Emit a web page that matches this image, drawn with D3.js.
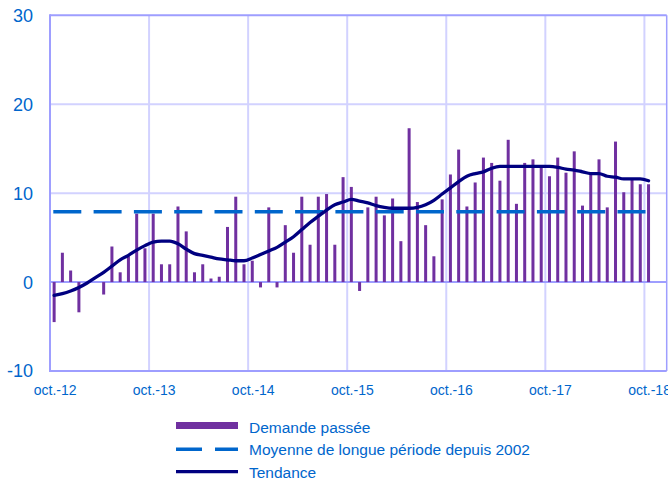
<!DOCTYPE html>
<html>
<head>
<meta charset="utf-8">
<script src="https://cdn.jsdelivr.net/npm/d3@7"></script>
<style>
  html, body { margin: 0; padding: 0; background: #fff; }
  svg { display: block; font-family: "Liberation Sans", Arial, sans-serif; }
</style>
</head>
<body>
<svg id="chart" width="668" height="483"></svg>
<script>
// ---- Data ----
const xTickLabels = ["oct.-12", "oct.-13", "oct.-14", "oct.-15", "oct.-16", "oct.-17", "oct.-18"];
const yTicks = [30, 20, 10, 0, -10];
// Monthly "Demande passée", oct.-12 .. oct.-18 (73 months)
const demande = [
  -4.5, 3.3, 1.3, -3.4, 0.0, 0.0, -1.4, 4.0, 1.1, 2.9, 7.7, 3.8,
  7.7, 2.0, 2.0, 8.5, 5.7, 1.1, 2.0, 0.4, 0.6, 6.2, 9.6, 2.0,
  2.4, -0.6, 8.4, -0.6, 6.4, 3.3, 9.6, 4.2, 9.6, 9.9, 4.2, 11.8,
  10.7, -1.0, 8.4, 9.6, 7.5, 9.4, 4.6, 17.3, 9.0, 6.4, 2.9, 9.3,
  12.1, 14.9, 8.5, 11.2, 14.0, 13.4, 11.4, 16.0, 8.8, 13.4, 13.8, 13.0,
  11.9, 14.0, 12.3, 14.7, 8.6, 12.1, 13.8, 8.4, 15.8, 10.1, 11.5, 11.0,
  11.0
];
// "Tendance"
const tendance = [
  -1.5, -1.3, -1.0, -0.6, -0.1, 0.5, 1.1, 1.8, 2.5, 3.0, 3.6, 4.1,
  4.5, 4.6, 4.6, 4.3, 3.7, 3.2, 3.0, 2.8, 2.6, 2.5, 2.4, 2.4,
  2.7, 3.1, 3.5, 3.9, 4.5, 5.1, 5.9, 6.7, 7.4, 8.1, 8.7, 9.0,
  9.3, 9.1, 8.9, 8.6, 8.4, 8.3, 8.3, 8.3, 8.4, 8.7, 9.2, 9.9,
  10.6, 11.3, 11.9, 12.2, 12.4, 12.8, 13.0, 13.0, 13.0, 13.0, 13.0, 13.0,
  13.0, 12.9, 12.7, 12.6, 12.4, 12.2, 12.2, 11.9, 11.8, 11.6, 11.6, 11.6,
  11.4
];
// "Moyenne de longue période depuis 2002"
const moyenne = 7.9;
const legendLabels = ["Demande passée", "Moyenne de longue période depuis 2002", "Tendance"];

// ---- Styles ----
const colBar = "#7030A0", colMean = "#0066CC", colTrend = "#000080";
const colText = "#0066CC", colAxis = "#9E9EFF", colGrid = "#D2D2FF";

const svg = d3.select("#chart");
const x = d3.scaleLinear().domain([0, 74.7]).range([50, 666.7]);
const y = d3.scaleLinear().domain([-10, 30]).range([371, 15.3]);

// vertical gridlines (every October)
const g = svg.append("g");
xTickLabels.forEach((lab, k) => {
  if (k === 0) return;
  g.append("line").attr("x1", x(k * 12)).attr("x2", x(k * 12))
    .attr("y1", y(30)).attr("y2", y(-10))
    .attr("stroke", colGrid).attr("stroke-width", 2);
});
// horizontal gridlines
yTicks.forEach(v => {
  if (v === 30 || v === -10 || v === 0) return;
  g.append("line").attr("x1", x(0)).attr("x2", x(74.7))
    .attr("y1", y(v)).attr("y2", y(v))
    .attr("stroke", colGrid).attr("stroke-width", 2);
});
// right border
g.append("line").attr("x1", x(74.7)).attr("x2", x(74.7))
  .attr("y1", y(30)).attr("y2", y(-10)).attr("stroke", colAxis).attr("stroke-width", 1.5);
// top border
g.append("line").attr("x1", x(0)).attr("x2", x(74.7))
  .attr("y1", y(30)).attr("y2", y(30)).attr("stroke", colAxis).attr("stroke-width", 2);
// zero line
g.append("line").attr("x1", x(0)).attr("x2", x(74.7))
  .attr("y1", y(0)).attr("y2", y(0)).attr("stroke", colAxis).attr("stroke-width", 2);

// bars
svg.append("g").selectAll("rect").data(demande).join("rect")
  .attr("x", (d, i) => x(i + 0.5) - 1.5)
  .attr("width", 3)
  .attr("y", d => y(Math.max(0, d)))
  .attr("height", d => Math.abs(y(d) - y(0)))
  .attr("fill", colBar);

// long-period mean (dashed)
svg.append("line")
  .attr("x1", x(0.4)).attr("x2", x(72.5))
  .attr("y1", y(moyenne)).attr("y2", y(moyenne))
  .attr("stroke", colMean).attr("stroke-width", 3.5)
  .attr("stroke-dasharray", "28,12.3");

// trend line
const line = d3.line().x((d, i) => x(i + 0.5)).y(d => y(d)).curve(d3.curveMonotoneX);
svg.append("path").datum(tendance).attr("d", line)
  .attr("fill", "none").attr("stroke", colTrend).attr("stroke-width", 3.3)
  .attr("stroke-linecap", "round").attr("stroke-linejoin", "round");

// left and bottom axes lines
svg.append("line").attr("x1", x(0)).attr("x2", x(0)).attr("y1", y(30) - 1).attr("y2", y(-10) + 1)
  .attr("stroke", colAxis).attr("stroke-width", 2);
svg.append("line").attr("x1", x(0)).attr("x2", x(74.7)).attr("y1", y(-10)).attr("y2", y(-10))
  .attr("stroke", colAxis).attr("stroke-width", 2);

// y labels
svg.append("g").selectAll("text").data(yTicks).join("text")
  .attr("x", 33).attr("y", d => y(d)).attr("dy", "0.36em")
  .attr("text-anchor", "end").attr("font-size", 18).attr("fill", colText)
  .text(d => d);

// x labels
svg.append("g").selectAll("text").data(xTickLabels).join("text")
  .attr("x", (d, k) => x(k * 12 + 0.5) + 1).attr("y", 395)
  .attr("text-anchor", "middle").attr("font-size", 14).attr("fill", colText)
  .text(d => d);

// legend
const lg = svg.append("g");
const lx0 = 176, lx1 = 238, tx = 249;
const ly = [425.5, 449.3, 471.7];
lg.append("rect").attr("x", lx0).attr("y", ly[0] - 3.5).attr("width", lx1 - lx0).attr("height", 7).attr("fill", colBar);
lg.append("line").attr("x1", lx0).attr("x2", lx1).attr("y1", ly[1]).attr("y2", ly[1])
  .attr("stroke", colMean).attr("stroke-width", 3.5).attr("stroke-dasharray", "26,13");
lg.append("line").attr("x1", lx0).attr("x2", lx1).attr("y1", ly[2]).attr("y2", ly[2])
  .attr("stroke", colTrend).attr("stroke-width", 3.3);
lg.selectAll("text").data(legendLabels).join("text")
  .attr("x", tx).attr("y", (d, i) => [432.7, 455, 477.8][i])
  .attr("font-size", 15.5).attr("fill", colText)
  .text(d => d);
</script>
</body>
</html>
